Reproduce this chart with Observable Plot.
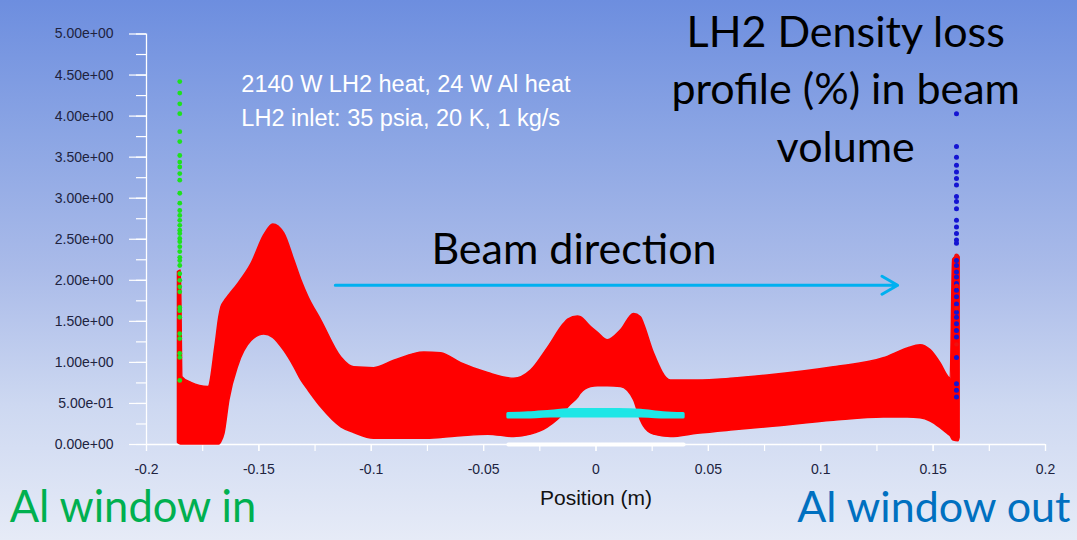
<!DOCTYPE html>
<html>
<head>
<meta charset="utf-8">
<script src="https://cdn.jsdelivr.net/npm/d3@7"></script>
<script src="https://cdn.jsdelivr.net/npm/@observablehq/plot@0.6"></script>
<style>
  html, body { margin: 0; padding: 0; }
  #chart {
    width: 1077px; height: 540px; overflow: hidden;
    background: linear-gradient(to bottom, #6d8edf 0%, #8ba5e4 25%, #aabbe9 50%, #cdd8f1 75%, #e6ebf7 100%);
  }
</style>
</head>
<body>
<div id="chart"></div>
<script>
// ---- red band: density loss envelope (position in m, loss in %) ----
const bandX = [-0.1860,-0.1847,-0.1840,-0.1800,-0.1724,-0.1693,-0.1676,-0.1667,-0.1653,-0.1631,-0.1591,-0.1533,-0.1476,-0.1436,-0.1387,-0.1342,-0.1311,-0.1280,-0.1222,-0.1133,-0.1076,-0.0987,-0.0898,-0.0764,-0.0689,-0.0600,-0.0480,-0.0364,-0.0289,-0.0213,-0.0142,-0.0124,-0.0080,-0.0067,-0.0022,0.0009,0.0053,0.0111,0.0169,0.0200,0.0213,0.0258,0.0333,0.0453,0.0600,0.0764,0.1058,0.1280,0.1387,0.1444,0.1489,0.1533,0.1569,0.1578,0.1589,0.1613,0.1618];
const bandLow = [0.02,0.00,0.00,0.00,0.00,0.00,0.00,0.03,0.13,0.54,0.96,1.26,1.34,1.30,1.14,0.94,0.78,0.66,0.45,0.21,0.14,0.07,0.07,0.07,0.08,0.10,0.12,0.09,0.12,0.21,0.38,0.45,0.57,0.62,0.70,0.71,0.71,0.70,0.54,0.29,0.22,0.12,0.09,0.13,0.17,0.21,0.29,0.33,0.33,0.32,0.28,0.20,0.12,0.10,0.05,0.04,0.08];
const bandHigh = [2.10,2.12,0.82,0.75,0.70,1.20,1.55,1.67,1.74,1.82,1.96,2.20,2.55,2.68,2.57,2.24,2.00,1.80,1.51,1.06,0.94,0.93,1.02,1.12,1.11,0.99,0.87,0.80,0.90,1.18,1.47,1.52,1.56,1.55,1.43,1.36,1.27,1.39,1.59,1.55,1.47,1.11,0.78,0.78,0.80,0.84,0.94,1.05,1.17,1.21,1.15,0.99,0.82,0.80,2.25,2.30,2.28];

// ---- Al window in (green) ----
const windowInX = -0.1852;
const windowInY = [4.42,4.28,4.15,4.03,3.81,3.69,3.52,3.44,3.38,3.30,3.22,3.06,2.94,2.85,2.79,2.73,2.67,2.61,2.57,2.51,2.47,2.41,2.35,2.28,2.24,2.18,2.08,2.00,1.92,1.86,1.67,1.63,1.55,1.35,1.29,1.11,1.06,0.78];

// ---- Al window out (blue) and red points among them ----
const windowOutX = 0.1604;
const windowOutY = [4.03,3.63,3.50,3.40,3.32,3.24,3.16,3.02,2.96,2.87,2.73,2.65,2.57,2.49,2.45,2.24,2.18,2.10,2.04,1.96,1.88,1.80,1.71,1.61,1.55,1.47,1.39,1.31,1.06,0.74,0.66,0.58];
const windowOutRedY = [2.30,1.93,1.66,1.22];

// ---- cyan series (beam core) ----
const cyanX = [-0.039,-0.030,-0.020,-0.010,0.000,0.010,0.020,0.030,0.039];
const cyanLow = [0.33,0.33,0.34,0.34,0.34,0.34,0.34,0.33,0.33];
const cyanHigh = [0.37,0.38,0.40,0.42,0.42,0.42,0.41,0.38,0.37];

// ---- white series at zero ----
const whiteX = [-0.039, 0.039];
const whiteY = [0, 0];

// ---- ticks ----
const xTicks = [-0.2,-0.15,-0.1,-0.05,0,0.05,0.1,0.15,0.2];
const xTickLabels = ["-0.2","-0.15","-0.1","-0.05","0","0.05","0.1","0.15","0.2"];
const xMinorTicks = [-0.2,-0.175,-0.15,-0.125,-0.1,-0.075,-0.05,-0.025,0,0.025,0.05,0.075,0.1,0.125,0.15,0.175,0.2];
const yTicks = [0,0.5,1,1.5,2,2.5,3,3.5,4,4.5,5];
const yTickLabels = ["0.00e+00","5.00e-01","1.00e+00","1.50e+00","2.00e+00","2.50e+00","3.00e+00","3.50e+00","4.00e+00","4.50e+00","5.00e+00"];
const yMinorTicks = [0,0.25,0.5,0.75,1,1.25,1.5,1.75,2,2.25,2.5,2.75,3,3.25,3.5,3.75,4,4.25,4.5,4.75,5];

const band = bandX.map((x, i) => ({x, lo: bandLow[i], hi: bandHigh[i]}));
const cyan = cyanX.map((x, i) => ({x, lo: cyanLow[i], hi: cyanHigh[i]}));
const white = whiteX.map((x, i) => ({x, y: whiteY[i]}));
const greenPts = windowInY.map(y => ({x: windowInX, y}));
const bluePts = windowOutY.map(y => ({x: windowOutX, y}));
const redPts = windowOutRedY.map(y => ({x: windowOutX, y}));

const sans = "'Liberation Sans', Arial, sans-serif";
const calibriLike = "Lato, 'Open Sans', sans-serif";

const plot = Plot.plot({
  width: 1077,
  height: 540,
  marginLeft: 146,
  marginRight: 32,
  marginTop: 33.5,
  marginBottom: 96,
  style: {background: "transparent", fontFamily: sans, overflow: "visible"},
  x: {domain: [-0.2, 0.2]},
  y: {domain: [0, 5]},
  marks: [
    // axes lines
    Plot.ruleX([-0.2], {y1: 0, y2: 5, stroke: "white", strokeWidth: 1.3}),
    Plot.ruleY([0], {stroke: "white", strokeWidth: 1.6}),
    Plot.axisY(yMinorTicks, {tickSize: 10, stroke: "white", strokeWidth: 1.2, tickFormat: () => ""}),
    Plot.axisY(yTicks, {tickSize: 17, tickPadding: 16, stroke: "white", strokeWidth: 1.2, fill: "#20233f",
      fontSize: 14, style: {letterSpacing: "1.1px"},
      tickFormat: d => yTickLabels[yTicks.indexOf(d)]}),
    Plot.axisX(xMinorTicks, {tickSize: 7, stroke: "white", strokeWidth: 1.2, tickFormat: () => ""}),
    Plot.axisX(xTicks, {tickSize: 7, tickPadding: 13, stroke: "white", strokeWidth: 1.2, fill: "#20233f",
      fontSize: 14, tickFormat: d => xTickLabels[xTicks.indexOf(d)]}),

    // data
    Plot.areaY(band, {x: "x", y1: "lo", y2: "hi", fill: "#ff0000", stroke: "#ff0000", strokeWidth: 1.5, strokeLinejoin: "round", curve: "monotone-x"}),
    Plot.lineY(white, {x: "x", y: "y", stroke: "white", strokeWidth: 4, strokeLinecap: "round"}),
    Plot.areaY(cyan, {x: "x", y1: "lo", y2: "hi", fill: "#1ee6e6", stroke: "#1ee6e6", strokeWidth: 3, strokeLinejoin: "round", curve: "monotone-x"}),
    Plot.dot(greenPts, {x: "x", y: "y", r: 2.4, fill: "#1de21d"}),
    Plot.dot(bluePts, {x: "x", y: "y", r: 2.5, fill: "#1414d2"}),
    Plot.dot(redPts, {x: "x", y: "y", r: 2.2, fill: "#ee1010"}),

    // annotations
    Plot.arrow([{x1: -0.116, x2: 0.1342, y: 1.94}], {x1: "x1", x2: "x2", y1: "y", y2: "y", stroke: "#00b0f0", strokeWidth: 3, headLength: 9, headAngle: 60}),
    Plot.text([{x: -0.0098, y: 2.37, t: "Beam direction"}], {x: "x", y: "y", text: "t", fontSize: 43, fontFamily: calibriLike, fill: "black", textAnchor: "middle", lineAnchor: "middle"}),
    Plot.text([{x: 0.1111, y: 4.37, t: "LH2 Density loss\nprofile (%) in beam\nvolume"}], {x: "x", y: "y", text: "t", fontSize: 43, lineHeight: 1.34, fontFamily: calibriLike, fill: "black", textAnchor: "middle", lineAnchor: "middle"}),
    Plot.text([{x: -0.1578, y: 4.39, t: "2140 W LH2 heat, 24 W Al heat"}, {x: -0.1578, y: 3.97, t: "LH2 inlet: 35 psia, 20 K, 1 kg/s"}], {x: "x", y: "y", text: "t", fontSize: 23.5, fontFamily: sans, fill: "white", textAnchor: "start", lineAnchor: "middle"}),
    Plot.text([{x: 0, y: -0.65, t: "Position (m)"}], {x: "x", y: "y", text: "t", fontSize: 21, fontFamily: sans, fill: "#111", textAnchor: "middle", lineAnchor: "middle", style: {letterSpacing: "1.4px"}}),
    Plot.text([{x: -0.2609, y: -0.78, t: "Al window in"}], {x: "x", y: "y", text: "t", fontSize: 43.5, fontFamily: calibriLike, fill: "#00b050", textAnchor: "start", lineAnchor: "middle"}),
    Plot.text([{x: 0.2111, y: -0.78, t: "Al window out"}], {x: "x", y: "y", text: "t", fontSize: 43, fontFamily: calibriLike, fill: "#0070c0", textAnchor: "end", lineAnchor: "middle"})
  ]
});
document.getElementById("chart").appendChild(plot);
</script>
</body>
</html>
